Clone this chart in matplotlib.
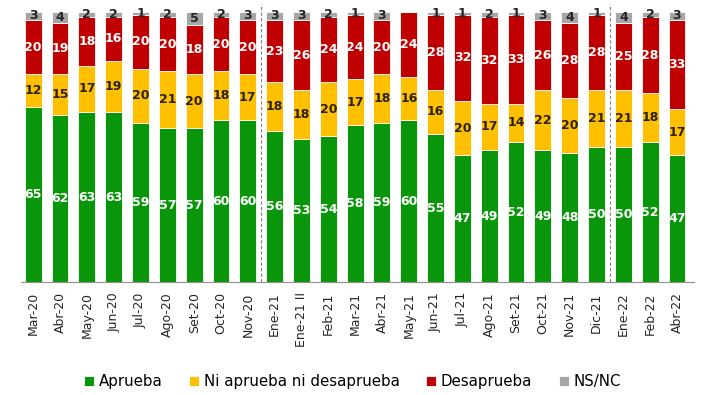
import numpy as np
import matplotlib
matplotlib.use("Agg")
import matplotlib.pyplot as plt

# survey periods
periods = ["Mar-20", "Abr-20", "May-20", "Jun-20", "Jul-20", "Ago-20", "Set-20",
           "Oct-20", "Nov-20", "Ene-21", "Ene-21 II", "Feb-21", "Mar-21", "Abr-21",
           "May-21", "Jun-21", "Jul-21", "Ago-21", "Set-21", "Oct-21", "Nov-21",
           "Dic-21", "Ene-22", "Feb-22", "Abr-22"]

aprueba = [65, 62, 63, 63, 59, 57, 57, 60, 60, 56, 53, 54, 58, 59, 60, 55, 47, 49,
           52, 49, 48, 50, 50, 52, 47]
ni_ni = [12, 15, 17, 19, 20, 21, 20, 18, 17, 18, 18, 20, 17, 18, 16, 16, 20, 17,
         14, 22, 20, 21, 21, 18, 17]
desaprueba = [20, 19, 18, 16, 20, 20, 18, 20, 20, 23, 26, 24, 24, 20, 24, 28, 32,
              32, 33, 26, 28, 28, 25, 28, 33]
nsnc = [3, 4, 2, 2, 1, 2, 5, 2, 3, 3, 3, 2, 1, 3, 0, 1, 1, 2, 1, 3, 4, 1, 4, 2, 3]

series = [
    ("Aprueba", aprueba, "#0a960a", "white"),
    ("Ni aprueba ni desaprueba", ni_ni, "#ffc000", "#2b2200"),
    ("Desaprueba", desaprueba, "#c00000", "white"),
    ("NS/NC", nsnc, "#a6a6a6", "#262626"),
]

# first bar of each new year block (dashed separator before it)
breaks = ["Ene-21", "Ene-22"]

fig = plt.figure(figsize=(7.05, 3.95), dpi=100)
ax = fig.add_axes([0.03, 0.285, 0.955, 0.685])

x = np.arange(len(periods))
bottom = np.zeros(len(periods))
handles = []
for name, vals, col, tcol in series:
    vals = np.array(vals, dtype=float)
    b = ax.bar(x, vals, 0.63, bottom=bottom, color=col, edgecolor="white",
               linewidth=0.6, label=name)
    handles.append(b)
    for xi, v, bt in zip(x, vals, bottom):
        if v > 0:
            ax.text(xi, bt + v / 2, "%d" % v, ha="center", va="center",
                    fontsize=9, fontweight="bold", color=tcol)
    bottom += vals

for lab in breaks:
    i = periods.index(lab)
    ax.axvline(i - 0.5, ymin=0, ymax=1.03, color="#808080", lw=0.8,
               ls=(0, (3, 2)), clip_on=False)

ax.set_xlim(-0.45, len(periods) - 0.35)
ax.set_ylim(0, 100)
ax.set_xticks(x)
ax.set_xticklabels(periods, rotation=90, fontsize=9, color="#262626")
ax.tick_params(axis="x", length=0, pad=7)
ax.set_yticks([])
for s in ["top", "right", "left"]:
    ax.spines[s].set_visible(False)
ax.spines["bottom"].set_color("#909090")

fig.legend(handles=handles, loc="lower center", ncol=4, frameon=False,
           fontsize=10.8, handlelength=0.65, handleheight=0.65,
           handletextpad=0.3, columnspacing=1.8, bbox_to_anchor=(0.5, -0.02))

fig.savefig("out.png", dpi=100)
